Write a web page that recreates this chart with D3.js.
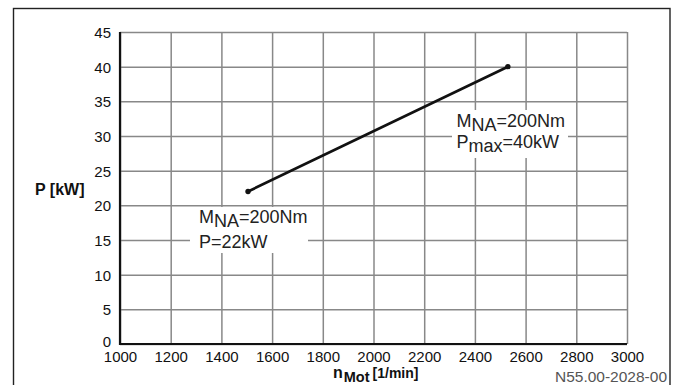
<!DOCTYPE html>
<html>
<head>
<meta charset="utf-8">
<script src="https://cdn.jsdelivr.net/npm/d3@7"></script>
<style>
  html, body { margin: 0; padding: 0; background: #fff; }
  svg { display: block; font-family: "Liberation Sans", Arial, sans-serif; }
</style>
</head>
<body>
<svg id="chart" width="678" height="385"></svg>
<script>
// Engine speed axis (1/min) and power axis (kW)
const xTicks = [1000, 1200, 1400, 1600, 1800, 2000, 2200, 2400, 2600, 2800, 3000];
const yTicks = [0, 5, 10, 15, 20, 25, 30, 35, 40, 45];

// Power curve at constant torque: start and end of the operating range
const speed = [1505, 2530];
const power = [22, 40];

// Annotation texts at both ends of the curve
const torqueLabel = ["M", "NA", "=200Nm"];
const startLabel = ["P=22kW"];
const endLabel = ["P", "max", "=40kW"];
const docNumber = "N55.00-2028-00";

const svg = d3.select("#chart");
const plotL = 120, plotR = 627, plotT = 32, plotB = 344;

const x = d3.scaleLinear().domain([1000, 3000]).range([plotL, plotR]);
const y = d3.scaleLinear().domain([0, 45]).range([plotB, plotT]);

// Outer frame
svg.append("rect")
  .attr("x", 13.5).attr("y", 8.5)
  .attr("width", 656.5).attr("height", 400)
  .attr("fill", "none").attr("stroke", "#222").attr("stroke-width", 1.4);

// Grid + tick labels via axes
const gx = svg.append("g")
  .attr("transform", `translate(0,${plotB})`)
  .call(d3.axisBottom(x).tickValues(xTicks).tickSize(-(plotB - plotT)).tickPadding(0).tickFormat(d3.format("d")));
const gy = svg.append("g")
  .attr("transform", `translate(${plotL},0)`)
  .call(d3.axisLeft(y).tickValues(yTicks).tickSize(-(plotR - plotL)).tickPadding(9).tickFormat(d3.format("d")));

[gx, gy].forEach(g => {
  g.select(".domain").remove();
  g.selectAll(".tick line").attr("stroke", "#888").attr("stroke-width", 1.5);
  g.selectAll(".tick text")
    .attr("fill", "#111")
    .attr("font-size", 15)
    .attr("font-family", "'Liberation Sans', Arial, sans-serif");
});
gx.selectAll(".tick text").attr("y", 0).attr("dy", 17.5);
// the zero label sits a little higher so it clears the first speed label
gy.selectAll(".tick text").attr("dy", d => d === 0 ? "0.15em" : "0.36em");

// Heavy axis lines
svg.append("line").attr("x1", plotL).attr("x2", plotL).attr("y1", plotT).attr("y2", plotB + 1)
  .attr("stroke", "#111").attr("stroke-width", 2.2);
svg.append("line").attr("x1", plotL - 1).attr("x2", plotR).attr("y1", plotB).attr("y2", plotB)
  .attr("stroke", "#111").attr("stroke-width", 2.2);

// White backgrounds behind annotations
svg.append("rect").attr("x", 190).attr("y", 207).attr("width", 118).attr("height", 46).attr("fill", "#fff");
svg.append("rect").attr("x", 452).attr("y", 110).attr("width", 116).attr("height", 48).attr("fill", "#fff");

// Power curve
const pts = speed.map((s, i) => [x(s), y(power[i])]);
svg.append("path")
  .attr("d", d3.line()(pts))
  .attr("fill", "none").attr("stroke", "#111").attr("stroke-width", 2.7).attr("stroke-linecap", "round");
svg.selectAll("circle.end").data(pts).join("circle")
  .attr("class", "end").attr("cx", d => d[0]).attr("cy", d => d[1]).attr("r", 2.7).attr("fill", "#111");

// Annotation helper: main text with lowered subscript part
function torque(xp, yp) {
  const t = svg.append("text").attr("x", xp).attr("y", yp).attr("font-size", 18).attr("fill", "#222");
  t.append("tspan").text(torqueLabel[0]);
  t.append("tspan").attr("dy", 4).text(torqueLabel[1]);
  t.append("tspan").attr("dy", -4).text(torqueLabel[2]);
}
torque(199, 223);
svg.append("text").attr("x", 199).attr("y", 247.5).attr("font-size", 18).attr("fill", "#222").text(startLabel[0]);

torque(456.5, 126.5);
const pm = svg.append("text").attr("x", 456.5).attr("y", 148).attr("font-size", 18).attr("fill", "#222");
pm.append("tspan").text(endLabel[0]);
pm.append("tspan").attr("dy", 4).text(endLabel[1]);
pm.append("tspan").attr("dy", -4).text(endLabel[2]);

// Axis titles
svg.append("text").attr("x", 35).attr("y", 195).attr("font-size", 16).attr("font-weight", "bold")
  .attr("fill", "#111").text("P [kW]");
const xt = svg.append("text").attr("x", 333).attr("y", 377.5).attr("font-weight", "bold").attr("fill", "#111");
xt.append("tspan").attr("font-size", 16).text("n");
xt.append("tspan").attr("font-size", 14.5).attr("dy", 4).attr("dx", 1).text("Mot");
xt.append("tspan").attr("font-size", 14).attr("dy", -4).attr("dx", 3).text("[1/min]");

// Drawing number
svg.append("text").attr("x", 667).attr("y", 382).attr("text-anchor", "end")
  .attr("font-size", 15.5).attr("fill", "#555").text(docNumber);
</script>
</body>
</html>
